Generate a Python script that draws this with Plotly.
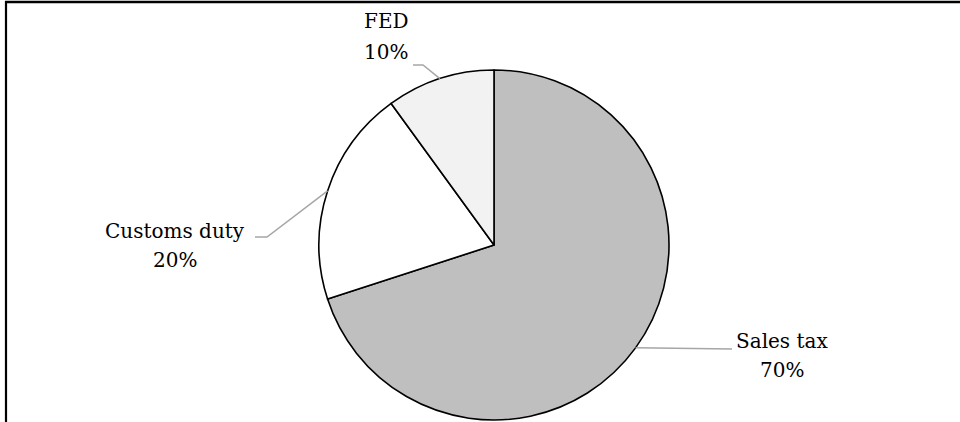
import math
import plotly.graph_objects as go

# dados
categorias = ["Sales tax", "Customs duty", "FED"]
valores = [70, 20, 10]
cores = ["#bfbfbf", "#ffffff", "#f2f2f2"]

W, H = 960, 422
CX, CY, R = 494, 245, 175  # centro e raio da pizza (px)
FONTE = dict(family="DejaVu Serif", size=20, color="#000000")


def px2paper(x, y):
    return x / W, 1 - y / H


# posição dos rótulos (centro x, linha de base do nome e do %) e cotovelo da linha guia (px)
rotulos = {
    "FED": dict(x=386, bases=(28, 59), cotovelo=[(413, 65), (423, 65)]),
    "Customs duty": dict(x=175, bases=(238, 267), cotovelo=[(255, 237), (267, 237)]),
    "Sales tax": dict(x=782, bases=(348, 377), cotovelo=[(732, 349)]),
}

fig = go.Figure(go.Pie(
    labels=categorias,
    values=valores,
    sort=False,
    direction="clockwise",
    rotation=0,
    textinfo="none",
    hoverinfo="label+percent",
    marker=dict(colors=cores, line=dict(color="#000000", width=1.6)),
    domain=dict(x=[(CX - R) / W, (CX + R) / W], y=[1 - (CY + R) / H, 1 - (CY - R) / H]),
    showlegend=False,
))

total = sum(valores)
acum = 0
annotations = []
shapes = []
for cat, v in zip(categorias, valores):
    meio = (acum + v / 2) / total * 2 * math.pi
    acum += v
    ex, ey = CX + R * math.sin(meio), CY - R * math.cos(meio)
    info = rotulos[cat]
    pts = info["cotovelo"] + [(ex, ey)]
    path = "M " + " L ".join(f"{px2paper(x, y)[0]},{px2paper(x, y)[1]}" for x, y in pts)
    shapes.append(dict(type="path", xref="paper", yref="paper", path=path,
                       line=dict(color="#a6a6a6", width=1.5)))
    for txt, base in zip([cat, f"{round(v / total * 100)}%"], info["bases"]):
        tx, ty = px2paper(info["x"], base - 7)
        annotations.append(dict(x=tx, y=ty, xref="paper", yref="paper", showarrow=False,
                                text=txt, xanchor="center", yanchor="middle", font=FONTE))

# moldura
shapes.append(dict(type="line", xref="paper", yref="paper", x0=6 / W, x1=6 / W, y0=0, y1=1 - 1 / H,
                   line=dict(color="#000000", width=2.2)))
shapes.append(dict(type="line", xref="paper", yref="paper", x0=5 / W, x1=1, y0=1 - 2 / H, y1=1 - 2 / H,
                   line=dict(color="#000000", width=2.5)))

fig.update_layout(
    width=W, height=H,
    margin=dict(l=0, r=0, t=0, b=0),
    paper_bgcolor="#ffffff",
    plot_bgcolor="#ffffff",
    annotations=annotations,
    shapes=shapes,
)

# tira a margem padrão do body para o gráfico ocupar a janela inteira
fig.write_html("out.html", config={"displayModeBar": False},
               post_script="document.body.style.margin='0';")
